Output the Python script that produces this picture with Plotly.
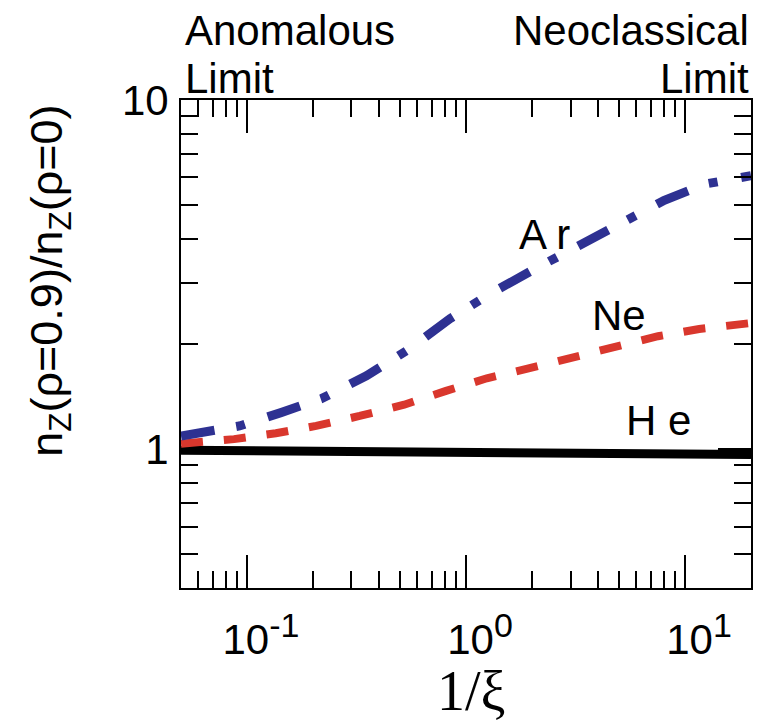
import plotly.graph_objects as go
import math

# ---- data ----
ar_x = [0.05, 0.0925, 0.143, 0.219, 0.351, 0.556, 0.845, 1.30, 2.04, 3.21, 5.07, 8.04, 12.3, 20.0]
ar_y = [1.09, 1.165, 1.272, 1.395, 1.621, 1.942, 2.364, 2.795, 3.27, 3.806, 4.403, 5.16, 5.74, 6.07]

ne_x = [0.05, 0.0873, 0.1355, 0.207, 0.327, 0.522, 0.811, 1.245, 1.93, 3.03, 4.75, 7.53, 11.6, 20.0]
ne_y = [1.036, 1.068, 1.11, 1.165, 1.244, 1.34, 1.468, 1.595, 1.703, 1.828, 1.966, 2.105, 2.208, 2.297]

he_x = [0.05, 0.1, 0.2, 0.5, 1.0, 2.0, 5.0, 10.0, 20.0]
he_y = [0.992, 0.988, 0.983, 0.978, 0.975, 0.972, 0.968, 0.966, 0.965]

x_tickvals = [0.1, 1, 10]
x_exps = ["-1", "0", "1"]
x_minor = [0.06, 0.07, 0.08, 0.09, 0.2, 0.3, 0.4, 0.5, 0.6, 0.7, 0.8, 0.9,
           2, 3, 4, 5, 6, 7, 8, 9]
y_tickvals = [1, 10]
y_ticktext = ["1", "10"]
y_minor = [0.5, 0.6, 0.7, 0.8, 0.9, 2, 3, 4, 5, 6, 7, 8, 9]

x_range = [0.05, 20.0]
y_range = [0.4, 10.0]

labels = [("A r", 0.232, 0.615), ("Ne", 0.564, 0.384), ("H e", 0.723, 0.083)]

SANS = "Liberation Sans, Arial, Helvetica, sans-serif"
SERIF = "Liberation Serif, Times New Roman, serif"
FS = 42

x_ticktext = ['10<sup><span style="font-size:34px">%s</span></sup>' % e for e in x_exps]

fig = go.Figure()
fig.add_trace(go.Scatter(x=he_x, y=he_y, mode="lines",
                         line=dict(color="#000000", width=9), showlegend=False))
fig.add_trace(go.Scatter(x=ne_x, y=ne_y, mode="lines",
                         line=dict(color="#D9372D", width=8, dash="22px,21px"),
                         showlegend=False))
fig.add_trace(go.Scatter(x=ar_x, y=ar_y, mode="lines",
                         line=dict(color="#2E3192", width=9, dash="34px,22px,9px,24px"),
                         showlegend=False))

axis_common = dict(
    type="log", showline=True, linewidth=2, linecolor="black", mirror="ticks",
    ticks="inside", ticklen=33, tickwidth=2, tickcolor="black",
    showgrid=False, zeroline=False,
    tickfont=dict(family=SANS, size=FS, color="black"),
)

fig.update_xaxes(
    range=[math.log10(x_range[0]), math.log10(x_range[1])],
    tickmode="array", tickvals=x_tickvals, ticktext=x_ticktext,
    minor=dict(tickmode="array", tickvals=x_minor, ticks="inside", ticklen=17,
               tickwidth=2, tickcolor="black", showgrid=False),
    ticklabelshift=14, ticklabelstandoff=14,
    **axis_common)
fig.update_yaxes(
    range=[math.log10(y_range[0]), math.log10(y_range[1])],
    tickmode="array", tickvals=y_tickvals, ticktext=y_ticktext,
    minor=dict(tickmode="array", tickvals=y_minor, ticks="inside", ticklen=17,
               tickwidth=2, tickcolor="black", showgrid=False),
    ticklabelstandoff=2,
    **axis_common)

for txt, lx, ly in labels:
    fig.add_annotation(x=lx, y=ly, xref="x", yref="y", text=txt, showarrow=False,
                       xanchor="left", yanchor="middle",
                       font=dict(family=SANS, size=FS, color="black"))

top_texts = [("Anomalous", 0.0, 1.143, "left"), ("Limit", 0.0, 1.044, "left"),
             ("Neoclassical", 1.0, 1.143, "right"), ("Limit", 1.0, 1.044, "right")]
for txt, px, py, anc in top_texts:
    fig.add_annotation(x=px, y=py, xref="paper", yref="paper", text=txt, showarrow=False,
                       xanchor=anc, yanchor="middle", xshift=(2 if anc == "left" else 0),
                       font=dict(family=SANS, size=FS, color="black"))

fig.add_annotation(x=-0.232, y=0.629, xref="paper", yref="paper",
                   text="n<sub>Z</sub>(ρ=0.9)/n<sub>Z</sub>(ρ=0)",
                   textangle=-90, showarrow=False, xanchor="center", yanchor="middle",
                   font=dict(family=SANS, size=45, color="black"))
fig.add_annotation(x=0.5105, y=-0.212, xref="paper", yref="paper",
                   text="1/ξ", showarrow=False, xanchor="center", yanchor="middle",
                   font=dict(family=SERIF, size=56, color="black"))

fig.update_layout(
    width=760, height=723,
    margin=dict(l=181, r=7, t=100, b=135),
    paper_bgcolor="white", plot_bgcolor="white",
    showlegend=False,
)

fig.write_html("out.html")
